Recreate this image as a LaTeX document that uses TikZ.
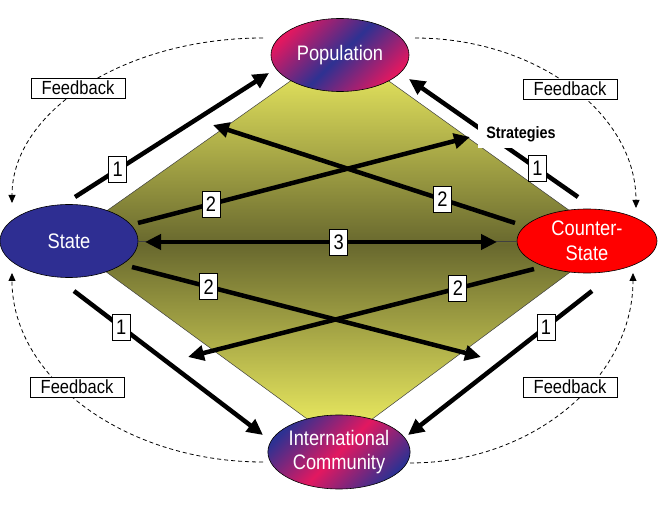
\documentclass[tikz,border=0pt]{standalone}
\usepackage{fontspec}
\setmainfont{Liberation Sans}[FakeStretch=0.87]
\usetikzlibrary{shapes.geometric,arrows.meta}
\definecolor{pk}{RGB}{226,24,96}
\definecolor{bl}{RGB}{46,49,146}
\definecolor{stb}{RGB}{46,46,146}
\definecolor{dyel}{RGB}{245,245,100}
\definecolor{dkol}{RGB}{104,104,46}
\begin{document}
\begin{tikzpicture}[x=1pt,y=-1pt,
  ell/.style={ellipse, draw=black, line width=0.6pt, inner sep=0pt, text=white, align=center, font=\fontsize{21}{24.5}\selectfont},
  bigarrow/.style={line width=4.5pt, -{Triangle[length=16pt,width=15pt]}},
  numbox/.style={draw, fill=white, line width=0.8pt, minimum width=18pt, minimum height=26pt, inner sep=0pt, font=\fontsize{21}{21}\selectfont},
  fbbox/.style={draw, fill=white, line width=0.8pt, minimum width=94pt, minimum height=20pt, inner sep=0pt, font=\fontsize{19}{19}\selectfont},
  fbline/.style={line width=0.8pt, dash pattern=on 4pt off 3pt, -{Triangle[length=8pt,width=7pt]}}
]
\useasboundingbox (0,0) rectangle (665,505);

% diamond
\coordinate (dT) at (340,46);
\coordinate (dR) at (612,241);
\coordinate (dB) at (340,443);
\coordinate (dL) at (64,241);
\draw[line width=0.5pt, draw=black!75, top color=dyel, bottom color=dyel, middle color=dkol] (dT) -- (dR) -- (dB) -- (dL) -- cycle;

% ellipses
\node[ell, minimum width=138pt, minimum height=73pt, left color=pk, right color=pk, middle color=bl, shading angle=45] (pop) at (340,55) {Population};
\node[ell, minimum width=138pt, minimum height=73pt, fill=stb] (state) at (69,241) {State};
\node[ell, minimum width=140pt, minimum height=64pt, fill=red] (cs) at (587,241) {Counter-\\State};
\node[ell, minimum width=138pt, minimum height=74pt, left color=bl, right color=bl, middle color=pk, shading angle=45] (ic) at (339,452) {International\\Community};

% thin middle line
\draw[line width=0.6pt, black!75] (state.east) -- (cs.west);

% coordinates of arrow ends
\coordinate (s1ps) at (75,197);  \coordinate (s1pe) at (269,73);
\coordinate (c1ps) at (578,197); \coordinate (c1pe) at (409,79);
\coordinate (s1is) at (74,291);  \coordinate (s1ie) at (263,435);
\coordinate (c1is) at (592,291); \coordinate (c1ie) at (408,435);
\coordinate (s2us) at (138,223); \coordinate (s2ue) at (470,137);
\coordinate (c2us) at (515,223); \coordinate (c2ue) at (213,125);
\coordinate (s2ds) at (132,267); \coordinate (s2de) at (481,357);
\coordinate (c2ds) at (534,269); \coordinate (c2de) at (188,357);
\coordinate (d3l) at (145,242);  \coordinate (d3r) at (497,242);

% numbered arrows
\draw[bigarrow] (s1ps) -- (s1pe) node[numbox, pos=0.22] {1};
\draw[bigarrow] (c1ps) -- (c1pe) node[numbox, pos=0.24] {1};
\draw[bigarrow] (s1is) -- (s1ie) node[numbox, pos=0.25] {1};
\draw[bigarrow] (c1is) -- (c1ie) node[numbox, pos=0.25] {1};
\draw[bigarrow] (s2us) -- (s2ue) node[numbox, pos=0.22] {2};
\draw[bigarrow] (c2us) -- (c2ue) node[numbox, pos=0.24] {2};
\draw[bigarrow] (s2ds) -- (s2de) node[numbox, pos=0.22] {2};
\draw[bigarrow] (c2ds) -- (c2de) node[numbox, pos=0.22] {2};
\draw[line width=4.5pt, {Triangle[length=16pt,width=15pt]}-{Triangle[length=16pt,width=15pt]}] (d3l) -- (d3r) node[numbox, pos=0.55] {3};

% Strategies label
\node[fill=white, minimum width=86pt, minimum height=28pt, inner sep=0pt, font=\bfseries\fontsize{16.5}{16.5}\selectfont] (strat) at (521,134) {Strategies};

% feedback arcs
\coordinate (f1s) at (263,38);  \coordinate (f1e) at (12,203);
\coordinate (f2s) at (415,38);  \coordinate (f2e) at (636,208);
\coordinate (f3s) at (263,462); \coordinate (f3e) at (12,273);
\coordinate (f4s) at (410,463); \coordinate (f4e) at (633,273);
\draw[fbline] (f1s) .. controls (124,38) and (12,112) .. (f1e);
\draw[fbline] (f2s) .. controls (537,38) and (636,114) .. (f2e);
\draw[fbline] (f3s) .. controls (124,462) and (12,377) .. (f3e);
\draw[fbline] (f4s) .. controls (533,463) and (633,378) .. (f4e);

\node[fbbox] (fb1) at (78,88) {Feedback};
\node[fbbox] (fb2) at (570,89) {Feedback};
\node[fbbox] (fb3) at (77,387) {Feedback};
\node[fbbox] (fb4) at (570,387) {Feedback};
\end{tikzpicture}
\end{document}
